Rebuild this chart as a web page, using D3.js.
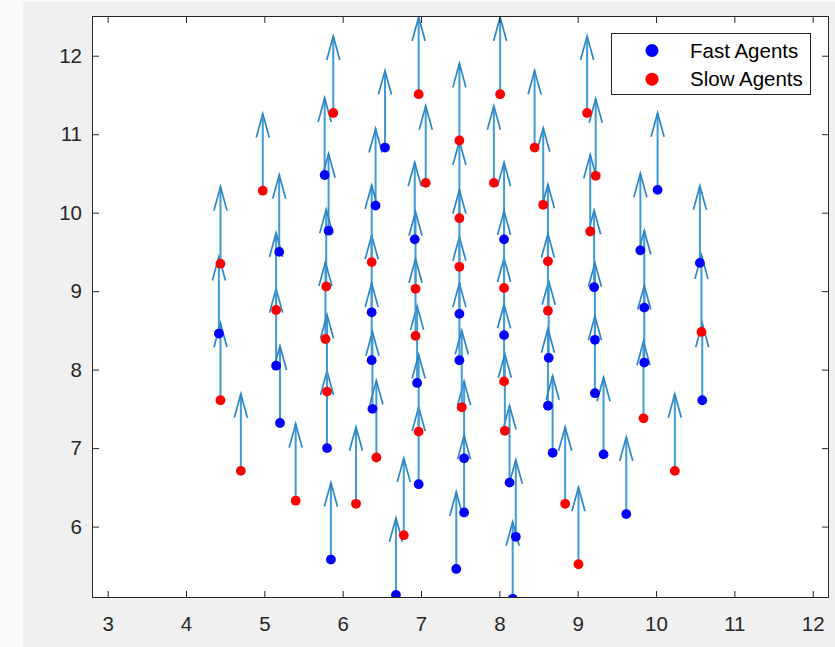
<!doctype html>
<html lang="en">
<head>
    <title>Agents</title>
    <script src="https://d3js.org/d3.v7.min.js"></script>
    <style type="text/css">
        body { margin: 0; background: #fafafa; }
        text { font-family: "Liberation Sans", Arial, Helvetica, sans-serif; }
    </style>
</head>

<body>
</body>

<script type="text/javascript">

    // agent positions
    var fastX = [4.42, 5.19, 5.15, 5.20, 5.77, 5.82, 5.80, 5.85, 6.54, 6.42, 6.37, 6.37, 6.38,
                 6.68, 6.92, 6.95, 6.97, 7.49, 7.49, 7.55, 7.55, 7.45, 8.06, 8.06, 8.13, 8.21,
                 8.17, 8.63, 8.62, 8.68, 9.21, 9.22, 9.22, 9.33, 9.62, 10.02, 9.80, 9.85, 9.85,
                 10.56, 10.59];
    var fastY = [8.46, 9.50, 8.05, 7.32, 10.48, 9.77, 7.00, 5.58, 10.83, 10.09, 8.73, 8.12, 7.50,
                 5.13, 9.66, 7.83, 6.54, 8.71, 8.12, 6.87, 6.18, 5.46, 9.66, 8.44, 6.56, 5.87,
                 5.08, 8.15, 7.54, 6.94, 9.05, 8.38, 7.70, 6.92, 6.16, 10.29, 9.52, 8.79, 8.09,
                 9.36, 7.61];

    var slowX = [4.44, 4.44, 4.70, 4.98, 5.15, 5.40, 5.88, 5.79, 5.78, 5.80, 6.17, 6.37, 6.43,
                 6.78, 6.97, 7.06, 6.93, 6.93, 6.97, 7.49, 7.49, 7.49, 7.52, 8.01, 7.93, 8.06,
                 8.06, 8.07, 8.45, 8.56, 8.62, 8.62, 8.84, 9.01, 9.12, 9.23, 9.16, 9.84, 10.24,
                 10.58];
    var slowY = [9.35, 7.61, 6.71, 10.28, 8.76, 6.33, 11.27, 9.06, 8.39, 7.72, 6.29, 9.37, 6.88,
                 5.89, 11.51, 10.38, 9.03, 8.43, 7.21, 10.92, 9.93, 9.31, 7.52, 11.51, 10.38, 9.04,
                 7.85, 7.22, 10.83, 10.10, 9.38, 8.75, 6.29, 5.52, 11.27, 10.47, 9.76, 7.38, 6.71,
                 8.48];

    // every agent heads straight up
    var velU = 0;
    var velV = 0.98;

    var legendLabels = ["Fast Agents", "Slow Agents"];
    var xTicks = [3, 4, 5, 6, 7, 8, 9, 10, 11, 12];
    var yTicks = [6, 7, 8, 9, 10, 11, 12];

    var width  = 835;
    var height = 647;
    var pL = 92, pR = 829, pT = 16, pB = 598;

    var fast = fastX.map((x, i) => ({x: x, y: fastY[i], c: "#0000ff"}));
    var slow = slowX.map((x, i) => ({x: x, y: slowY[i], c: "#ff0000"}));
    var agents = fast.concat(slow);

    var xScale = d3.scaleLinear().domain([2.80, 12.208]).range([pL, pR]);
    var yScale = d3.scaleLinear().domain([5.09, 12.506]).range([pB, pT]);

    var svg = d3.select("body")
                .append("svg")
                .attr("width", width)
                .attr("height", height)
                .style("display", "block");

    svg.append("rect")
       .attr("x", 23).attr("y", 2)
       .attr("width", width - 23).attr("height", height - 2)
       .style("fill", "#f0f0f0");

    svg.append("rect")
       .attr("x", pL).attr("y", pT)
       .attr("width", pR - pL).attr("height", pB - pT)
       .style("fill", "#ffffff");

    svg.append("clipPath").attr("id", "plot")
       .append("rect")
       .attr("x", pL).attr("y", pT)
       .attr("width", pR - pL).attr("height", pB - pT);

    var plot = svg.append("g").attr("clip-path", "url(#plot)");

    // quiver arrows
    var arrows = plot.selectAll("g.arrow").data(agents).enter()
                     .append("g").attr("class", "arrow");

    arrows.append("line")
          .attr("x1", (d) => xScale(d.x))
          .attr("y1", (d) => yScale(d.y))
          .attr("x2", (d) => xScale(d.x + velU))
          .attr("y2", (d) => yScale(d.y + velV))
          .style("stroke", "#3f9ad6")
          .style("stroke-width", 2);

    arrows.append("path")
          .attr("d", function (d) {
              var tx = xScale(d.x + velU), ty = yScale(d.y + velV);
              var len = yScale(d.y) - ty;
              var hl = len * 0.31, hw = len * 0.085;
              return "M" + (tx - hw) + "," + (ty + hl) + "L" + tx + "," + ty + "L" + (tx + hw) + "," + (ty + hl);
          })
          .style("fill", "none")
          .style("stroke", "#2d86c6")
          .style("stroke-width", 1.7);

    plot.selectAll("circle.agent").data(agents).enter()
        .append("circle")
        .attr("class", "agent")
        .attr("cx", (d) => xScale(d.x))
        .attr("cy", (d) => yScale(d.y))
        .attr("r", 4.9)
        .style("fill", (d) => d.c);

    // axes, ticks inward on all four sides
    var axisColor = "#262626";

    var xAxis = svg.append("g")
        .attr("transform", "translate(0," + pB + ")")
        .call(d3.axisBottom(xScale).tickValues(xTicks).tickSizeInner(-7).tickSizeOuter(0).tickPadding(18));
    var yAxis = svg.append("g")
        .attr("transform", "translate(" + pL + ",0)")
        .call(d3.axisLeft(yScale).tickValues(yTicks).tickSizeInner(-7).tickSizeOuter(0).tickPadding(10));
    var xTop = svg.append("g")
        .attr("transform", "translate(0," + pT + ")")
        .call(d3.axisTop(xScale).tickValues(xTicks).tickSizeInner(-7).tickSizeOuter(0).tickFormat(""));
    var yRight = svg.append("g")
        .attr("transform", "translate(" + pR + ",0)")
        .call(d3.axisRight(yScale).tickValues(yTicks).tickSizeInner(-7).tickSizeOuter(0).tickFormat(""));

    [xAxis, yAxis, xTop, yRight].forEach(function (a) {
        a.select(".domain").remove();
        a.selectAll("line").style("stroke", axisColor);
        a.selectAll("text").style("fill", axisColor).style("font-size", "20.5px")
         .style("font-family", "'Liberation Sans', Arial, Helvetica, sans-serif");
    });

    svg.append("rect")
       .attr("x", pL + 0.5).attr("y", pT + 0.5)
       .attr("width", pR - pL - 1).attr("height", pB - pT - 1)
       .style("fill", "none")
       .style("stroke", axisColor)
       .style("stroke-width", 1);

    // legend
    var legend = svg.append("g");
    legend.append("rect")
          .attr("x", 611.5).attr("y", 33.5)
          .attr("width", 199).attr("height", 61)
          .style("fill", "#ffffff")
          .style("stroke", axisColor)
          .style("stroke-width", 1);

    var legendColors = ["#0000ff", "#ff0000"];
    var items = legend.selectAll("g.item").data(legendLabels).enter()
                      .append("g").attr("class", "item")
                      .attr("transform", (d, i) => "translate(0," + (50.5 + i * 28.7) + ")");
    items.append("circle")
         .attr("cx", 652).attr("cy", 0).attr("r", 6.5)
         .style("fill", (d, i) => legendColors[i]);
    items.append("text")
         .attr("x", 690).attr("y", 7)
         .text((d) => d)
         .style("font-size", "20.5px")
         .style("fill", "#000000");

</script>

</html>
